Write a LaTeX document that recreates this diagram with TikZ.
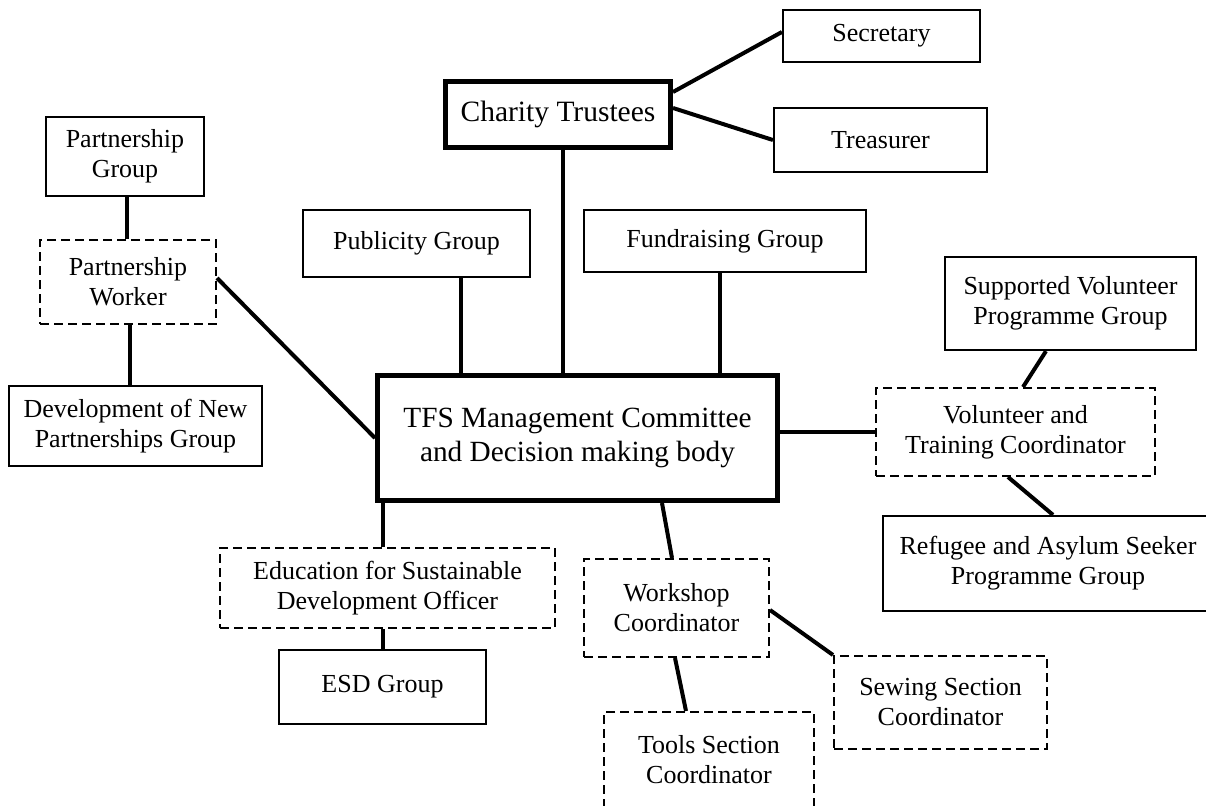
\documentclass[tikz,border=0pt]{standalone}
\usepackage{fontspec}
\setmainfont{Liberation Serif}
\begin{document}
\begin{tikzpicture}[x=1pt,y=1pt,
  box/.style={draw, line width=2.2pt, rectangle, align=center, inner sep=0pt, fill=white,
    font=\fontsize{26}{30}\selectfont},
  dbox/.style={box, line width=2pt, dash pattern=on 9pt off 5pt},
  tbox/.style={box, line width=5pt},
  link/.style={line width=4pt}]
\clip (0,0) rectangle (1206,-805);
% top
\node[box, minimum width=197pt, minimum height=52pt] (sec) at (881.5,-36) {Secretary};
\node[box, minimum width=213pt, minimum height=64pt] (trea) at (880.5,-140) {Treasurer};
\node[tbox, minimum width=225pt, minimum height=66pt, font=\fontsize{29.5}{34}\selectfont] (ct) at (558,-114.5) {Charity Trustees};
% left
\node[box, minimum width=158pt, minimum height=79pt] (pg) at (125,-156.5) {\raisebox{-3pt}{\begin{tabular}{@{}c@{}}Partnership\\Group\end{tabular}}};
\node[dbox, minimum width=176pt, minimum height=84pt] (pw) at (128,-282) {Partnership\\Worker};
\node[box, minimum width=253pt, minimum height=80pt] (dev) at (135.5,-426) {Development of New\\Partnerships Group};
% middle groups
\node[box, minimum width=227pt, minimum height=67pt] (pub) at (416.5,-243.5) {Publicity Group};
\node[box, minimum width=282pt, minimum height=62pt] (fund) at (725,-241) {Fundraising Group};
% centre
\node[tbox, minimum width=400pt, minimum height=125pt, font=\fontsize{29.3}{34}\selectfont] (tfs) at (577.5,-438) {TFS Management Committee\\and Decision making body};
% right
\node[box, minimum width=251pt, minimum height=93pt] (sv) at (1070.5,-303.5) {Supported Volunteer\\Programme Group};
\node[dbox, minimum width=279pt, minimum height=88pt] (vtc) at (1015.5,-432) {Volunteer and\\Training Coordinator};
\node[box, minimum width=330pt, minimum height=95pt] (ref) at (1048,-563.5) {Refugee and Asylum Seeker\\Programme Group};
% bottom
\node[dbox, minimum width=335pt, minimum height=80pt] (esdo) at (387.5,-588) {Education for Sustainable\\Development Officer};
\node[box, minimum width=207pt, minimum height=74pt] (esdg) at (382.5,-687) {ESD Group};
\node[dbox, minimum width=185pt, minimum height=98pt] (ws) at (676.5,-608) {Workshop\\Coordinator};
\node[dbox, minimum width=213pt, minimum height=93pt] (sew) at (940.5,-702.5) {Sewing Section\\Coordinator};
\node[dbox, minimum width=210pt, minimum height=95pt] (tools) at (709,-759.5) {Tools Section\\Coordinator};
% connector x positions
\coordinate (xct) at (563,0);
\coordinate (xpub) at (461,0);
\coordinate (xfund) at (720,0);
\coordinate (xpg) at (127,0);
\coordinate (xpw) at (130,0);
\coordinate (xesd) at (383,0);
% connectors
\draw[link] ([yshift=22.5pt]ct.east) -- ([yshift=4pt]sec.west);
\draw[link] ([yshift=6.5pt]ct.east) -- (trea.west);
\draw[link] (ct.south -| xct) -- (tfs.north -| xct);
\draw[link] (pub.south -| xpub) -- (tfs.north -| xpub);
\draw[link] (fund.south -| xfund) -- (tfs.north -| xfund);
\draw[link] (pg.south -| xpg) -- (pw.north -| xpg);
\draw[link] (pw.south -| xpw) -- (dev.north -| xpw);
\draw[link] ([yshift=4pt]pw.east) -- (tfs.west);
\draw[link] (tfs.east |- vtc.west) -- (vtc.west);
\draw[link] ([xshift=-24.5pt]sv.south) -- ([xshift=7.5pt]vtc.north);
\draw[link] ([xshift=-7.5pt]vtc.south) -- ([xshift=5pt]ref.north);
\draw[link] (tfs.south -| xesd) -- (esdo.north -| xesd);
\draw[link] (esdo.south -| xesd) -- (esdg.north -| xesd);
\draw[link] ([xshift=84.5pt]tfs.south) -- ([xshift=-4.5pt]ws.north);
\draw[link] ([yshift=-2pt]ws.east) -- (sew.north west);
\draw[link] ([xshift=-1.5pt]ws.south) -- ([xshift=-23pt]tools.north);
\end{tikzpicture}
\end{document}
